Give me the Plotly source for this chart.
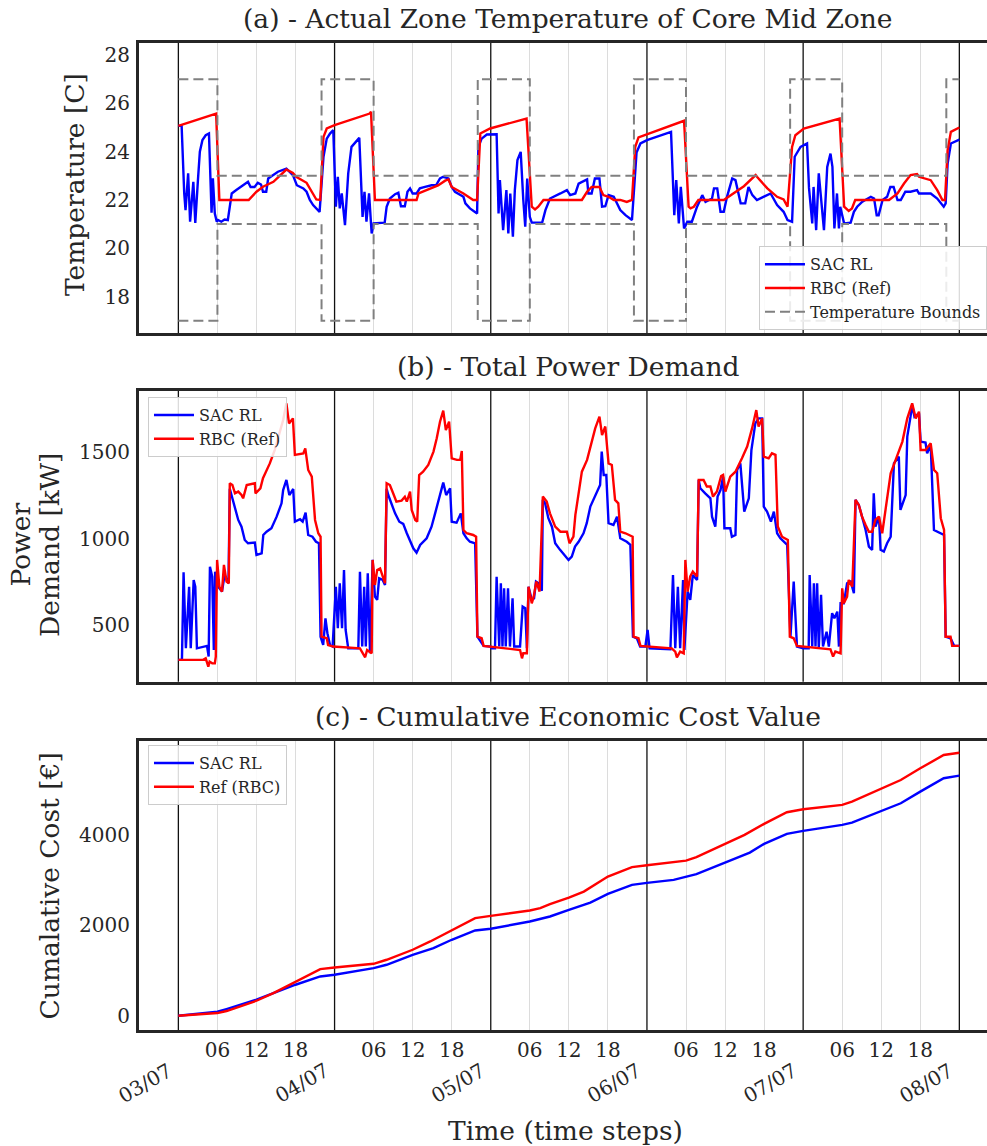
import plotly.graph_objects as go

# ---------------- data (time in hours since 03/07 00:00) ----------------
day_hours = [0, 24, 48, 72, 96, 120]
day_labels = ["03/07", "04/07", "05/07", "06/07", "07/07", "08/07"]
hour_ticks = [6, 12, 18]

temp_ticks = [18, 20, 22, 24, 26, 28]
power_ticks = [500, 1000, 1500]
cost_ticks = [0, 2000, 4000]

# temperature bounds (step changes)
bound_t = [0, 6, 22, 30, 46, 54, 70, 78, 94, 102, 118, 120]
bound_upper = [27, 23, 27, 23, 27, 23, 27, 23, 27, 23, 27, 27]
bound_lower = [17, 21, 17, 21, 17, 21, 17, 21, 17, 21, 17, 17]

temp_rbc_t = [0, 5.6, 5.8, 6.3, 10.8, 12.0, 13.0, 14.6, 16.6, 17.6, 18.1, 19.7, 20.7, 21.2, 21.8, 22.3,
              22.8, 24.0, 29.4, 29.6, 30.2, 36.6, 36.9, 38.7, 39.9, 41.0, 41.5, 42.0, 43.8, 45.3, 45.9,
              46.4, 47.9, 53.5, 54.3, 54.8, 55.3, 56.1, 62.0, 62.8, 63.5, 64.7, 65.3, 66.1, 66.9, 67.9,
              68.9, 69.7, 70.2, 70.7, 72.0, 77.7, 78.4, 78.7, 79.2, 79.9, 83.8, 85.1, 86.9, 88.7, 88.9,
              90.5, 92.0, 93.0, 93.6, 94.3, 94.8, 96.1, 101.6, 102.3, 103.0, 103.5, 104.0, 109.2, 110.5,
              111.5, 112.5, 113.5, 113.8, 115.6, 116.6, 117.4, 117.8, 118.2, 118.7, 120.0]
temp_rbc = [25.07, 25.55, 25.58, 22.0, 22.0, 22.34, 22.55, 22.75, 23.26, 23.12, 22.96, 22.71, 22.27, 22.02,
            22.0, 24.61, 24.96, 25.1, 25.58, 25.65, 22.0, 22.0, 22.27, 22.48, 22.6, 22.8, 22.85, 22.54,
            22.27, 22.0, 22.0, 24.75, 24.96, 25.37, 21.72, 21.61, 21.72, 22.0, 22.0, 22.34, 22.54, 22.54,
            22.2, 22.13, 22.0, 22.0, 21.92, 22.0, 24.2, 24.59, 24.72, 25.28, 21.72, 21.65, 21.72, 22.0,
            22.0, 22.24, 22.57, 23.03, 22.96, 22.48, 22.13, 22.02, 21.72, 24.2, 24.68, 24.96, 25.37,
            21.72, 21.55, 21.65, 22.0, 22.0, 22.27, 22.68, 23.03, 23.07, 22.96, 22.82, 22.41, 22.0, 22.0,
            24.06, 24.82, 25.0]

temp_sac_t = [0, 0.5, 0.9, 1.1, 1.5, 1.8, 2.3, 2.6, 3.0, 3.3, 3.7, 4.2, 4.7, 5.1, 5.3, 5.6, 5.9, 6.1, 6.6,
              7.1, 7.6, 8.2, 8.9, 10.0, 10.7, 11.1, 11.7, 12.2, 12.7, 13.0, 13.5, 13.8, 14.6, 15.3, 16.6,
              17.6, 18.2, 19.2, 19.7, 20.2, 20.7, 21.2, 21.7, 22.3, 22.8, 23.3, 23.8, 24.2, 24.5, 24.8,
              25.1, 25.6, 26.1, 26.6, 27.4, 27.8, 28.3, 28.6, 28.9, 29.3, 29.7, 30.0, 31.7, 32.0, 32.5,
              33.3, 33.8, 34.2, 34.8, 35.2, 35.6, 36.0, 36.6, 37.1, 37.9, 38.9, 39.6, 40.2, 40.7, 41.5,
              42.0, 42.5, 43.8, 44.1, 44.8, 45.9, 46.1, 46.6, 47.4, 48.9, 49.2, 49.4, 49.9, 50.4, 50.7,
              51.0, 51.4, 51.7, 52.1, 52.6, 53.0, 53.3, 53.6, 54.0, 54.3, 55.9, 56.4, 57.1, 58.7, 59.7,
              60.2, 61.0, 61.5, 62.8, 63.0, 63.5, 64.0, 64.7, 65.1, 65.6, 66.1, 66.9, 67.9, 68.7, 69.7,
              70.4, 71.0, 72.0, 75.7, 76.0, 76.2, 76.5, 76.9, 77.2, 77.7, 78.2, 78.9, 79.7, 80.5, 81.0,
              82.0, 82.3, 82.8, 83.3, 83.8, 84.3, 85.1, 85.6, 86.4, 87.1, 87.6, 88.2, 88.9, 89.9, 91.0,
              92.0, 93.0, 93.6, 94.3, 94.7, 95.6, 96.6, 96.9, 97.4, 97.6, 98.0, 98.4, 99.2, 99.7, 100.2,
              100.5, 100.8, 101.2, 101.5, 101.7, 102.3, 103.3, 103.8, 104.3, 105.1, 106.4, 106.9, 107.3,
              107.6, 108.2, 108.9, 109.4, 109.9, 110.5, 111.0, 111.7, 112.5, 113.5, 113.8, 115.6, 116.6,
              117.6, 117.9, 118.2, 118.7, 120.0]
temp_sac = [25.07, 25.07, 22.27, 21.58, 23.1, 21.1, 22.75, 21.05, 22.8, 24.0, 24.48, 24.68, 24.75, 21.47,
            22.9, 21.44, 21.1, 21.17, 21.1, 21.19, 21.17, 22.27, 22.41, 22.61, 22.75, 22.54, 22.54, 22.71,
            22.64, 22.34, 22.34, 22.89, 23.03, 23.17, 23.3, 23.03, 22.61, 22.48, 22.34, 22.0, 21.79, 21.65,
            21.51, 23.79, 24.54, 24.75, 24.89, 21.72, 22.96, 21.65, 22.27, 20.96, 23.1, 24.2, 24.48, 24.57,
            21.3, 22.34, 21.1, 22.27, 20.61, 21.03, 21.06, 21.72, 22.06, 22.24, 22.3, 21.74, 21.74, 22.34,
            22.48, 22.27, 22.27, 22.48, 22.54, 22.61, 22.61, 22.89, 22.96, 22.89, 22.54, 22.34, 22.13,
            21.86, 21.65, 21.44, 24.2, 24.54, 24.71, 24.72, 21.44, 22.82, 20.75, 22.41, 20.61, 22.27, 20.48,
            22.41, 23.65, 23.99, 22.0, 20.89, 22.89, 21.3, 21.06, 21.06, 21.58, 22.06, 22.27, 22.41, 22.2,
            22.27, 22.68, 22.85, 22.27, 22.27, 22.89, 22.89, 21.72, 21.74, 22.2, 22.13, 21.58, 21.37, 21.17,
            23.96, 24.34, 24.48, 24.82, 22.5, 21.37, 22.82, 21.03, 22.54, 20.82, 21.1, 21.1, 21.72, 22.2,
            21.92, 22.06, 22.48, 22.48, 21.51, 21.51, 22.13, 22.89, 22.82, 21.86, 21.86, 22.54, 22.2, 22.0,
            22.13, 22.27, 21.79, 21.51, 21.17, 21.1, 23.79, 24.2, 24.34, 22.5, 21.03, 22.54, 20.75, 23.1,
            20.75, 23.37, 23.92, 23.37, 20.82, 22.27, 20.82, 21.72, 21.03, 21.06, 21.51, 21.72, 21.93,
            22.13, 22.06, 21.37, 21.37, 22.0, 22.13, 22.54, 22.54, 22.0, 22.0, 22.34, 22.34, 22.41, 22.27,
            22.27, 22.06, 21.72, 21.86, 23.51, 24.34, 24.5]

power_rbc_t = [0, 3.8, 4.2, 4.6, 4.8, 5.2, 5.6, 5.75, 5.95, 6.3, 6.7, 7.0, 7.4, 7.75, 7.9, 8.3, 8.7, 9.2,
               9.7, 9.95, 10.5, 11.2, 11.75, 11.85, 12.6, 13.0, 13.5, 14.05, 14.8, 15.6, 16.1, 16.6, 17.0,
               17.6, 17.9, 19.2, 19.5, 19.95, 20.5, 21.0, 21.5, 21.85, 22.0, 22.8, 23.0, 23.8, 27.9, 28.7,
               29.0, 29.7, 29.85, 30.2, 30.55, 31.0, 31.4, 31.75, 32.0, 32.5, 33.0, 33.5, 34.3, 34.8, 35.1,
               35.6, 35.85, 36.4, 36.7, 37.0, 37.6, 38.4, 39.2, 39.7, 40.2, 40.7, 41.1, 41.6, 42.0, 42.8,
               43.3, 43.55, 43.8, 44.3, 45.3, 45.75, 45.95, 46.6, 46.9, 52.5, 52.8, 53.0, 53.55, 53.8, 54.3,
               54.6, 55.0, 55.5, 56.0, 56.6, 57.1, 57.9, 58.7, 59.7, 60.1, 60.7, 61.0, 62.0, 62.8, 63.5,
               64.05, 64.7, 65.1, 65.6, 66.1, 66.6, 67.1, 67.6, 67.9, 68.7, 69.2, 69.8, 69.95, 70.7, 71.0,
               75.8, 76.35, 76.6, 77.1, 77.65, 77.9, 78.25, 78.65, 79.05, 79.7, 79.95, 80.7, 81.2, 81.75,
               82.15, 82.75, 83.4, 83.7, 84.05, 84.8, 85.6, 86.6, 87.4, 88.15, 88.8, 89.15, 89.7, 89.95,
               90.7, 91.2, 91.75, 92.1, 92.75, 93.65, 93.95, 94.55, 95.05, 100.2, 100.6, 100.95, 101.75,
               102.0, 102.25, 102.75, 103.0, 103.55, 104.05, 104.55, 105.05, 105.6, 106.1, 106.6, 107.1,
               107.65, 108.15, 109.45, 110.45, 111.25, 112.0, 112.75, 113.3, 113.8, 114.05, 114.8, 115.6,
               116.1, 116.6, 117.15, 117.65, 117.9, 118.65, 118.9, 120.0]
power_rbc = [301, 301, 310, 262, 291, 281, 281, 320, 879, 724, 696, 850, 754, 744, 1322, 1312, 1264, 1274,
             1254, 1235, 1312, 1318, 1322, 1264, 1293, 1351, 1389, 1437, 1514, 1620, 1688, 1784, 1668,
             1697, 1486, 1495, 1524, 1399, 1360, 1110, 1033, 1013, 435, 426, 387, 378, 368, 316,
             358, 339, 879, 734, 821, 830, 783, 744, 1322, 1312, 1264, 1216, 1222, 1244, 1216,
             1274, 1168, 1110, 1100, 1370, 1389, 1428, 1505, 1582, 1678, 1742, 1630, 1678, 1466, 1457,
             1457, 1508, 1052, 1033, 1023, 1013, 435, 426, 382, 358, 310, 339, 339, 724, 628,
             667, 754, 696, 1245, 1216, 1148, 1071, 1042, 1042, 975, 1013, 1139, 1389, 1457, 1563,
             1639, 1707, 1601, 1650, 1437, 1428, 1226, 1206, 1042, 1033, 1023, 1013, 435, 426, 382,
             368, 349, 316, 349, 339, 879, 696, 783, 811, 783, 1341, 1341, 1303, 1303,
             1245, 1274, 1364, 1370, 1274, 1360, 1389, 1466, 1534, 1639, 1745, 1650, 1697, 1476,
             1466, 1495, 1486, 1072, 1013, 994, 435, 426, 382, 362, 320, 349, 339,
             715, 628, 667, 763, 724, 1226, 1197, 1129, 1081, 1042, 1042, 1110,
             1129, 1033, 1380, 1476, 1563, 1697, 1784, 1697, 1736, 1514, 1514, 1553,
             1399, 1380, 1120, 1052, 435, 435, 382, 382]

power_sac_t = [0, 0.55, 0.8, 1.15, 1.65, 1.9, 2.35, 2.6, 2.85, 4.05, 4.4, 4.65, 4.85, 5.2, 5.45, 5.65, 5.85,
               6.1, 6.7, 7.1, 7.7, 7.9, 8.15, 8.7, 9.2, 9.7, 10.2, 10.7, 11.75, 12.0, 12.8, 13.05, 13.55,
               14.3, 15.1, 15.85, 16.1, 16.6, 17.05, 17.65, 17.9, 18.7, 19.1, 19.55, 19.95, 20.6, 21.15,
               21.6, 21.85, 22.25, 22.6, 22.9, 23.3, 23.7, 24.2, 24.5, 24.8, 25.15, 25.45, 25.7, 26.1,
               27.65, 27.9, 28.25, 28.55, 28.8, 29.1, 29.45, 29.85, 30.2, 30.55, 30.85, 31.4, 31.75, 32.0,
               32.25, 32.75, 33.3, 33.95, 34.55, 35.1, 35.6, 36.1, 36.6, 37.15, 38.15, 38.9, 39.45, 40.1,
               40.7, 41.15, 41.75, 42.0, 42.75, 43.4, 43.8, 44.3, 44.8, 45.6, 45.95, 46.9, 48.0, 48.15,
               48.65, 48.9, 49.3, 49.55, 49.8, 50.05, 50.3, 50.65, 50.95, 51.35, 51.6, 52.5, 52.9, 53.3,
               53.55, 53.8, 54.3, 54.65, 54.95, 55.35, 55.85, 56.0, 56.35, 56.85, 57.4, 57.9, 58.65,
               59.95, 60.45, 60.95, 61.5, 62.25, 62.75, 63.3, 64.05, 64.8, 65.05, 65.35, 65.75, 66.1,
               66.85, 67.4, 67.9, 68.9, 69.45, 69.85, 70.45, 70.95, 71.75, 72.1, 72.4, 75.6, 76.0, 76.35,
               76.75, 77.1, 77.55, 77.75, 78.25, 78.65, 79.05, 79.7, 79.95, 80.2, 80.95, 81.75, 82.0,
               82.5, 82.85, 83.3, 83.7, 83.9, 84.8, 85.05, 85.6, 85.85, 86.35, 86.95, 87.65, 88.05, 88.65,
               89.15, 89.7, 89.95, 90.45, 91.05, 91.5, 92.0, 92.5, 93.55, 94.05, 94.55, 95.05, 96.0,
               96.85, 97.0, 97.4, 97.65, 97.9, 98.15, 98.4, 98.75, 99.05, 99.6, 99.95, 100.45, 100.8,
               101.25, 101.5, 101.75, 102.25, 102.75, 103.3, 103.8, 104.05, 104.55, 105.05, 105.6, 106.1,
               106.6, 106.85, 107.1, 107.65, 107.9, 108.4, 108.9, 109.45, 109.7, 109.95, 110.7, 110.95,
               111.75, 112.0, 112.5, 112.75, 113.1, 113.8, 114.05, 114.8, 115.05, 115.6, 116.1, 117.15,
               117.65, 117.9, 118.65, 119.2, 120.0]
power_sac = [301, 301, 807, 368, 724, 368, 763, 724, 368, 378, 382, 320, 840, 782, 358, 811, 744,
             724, 696, 792, 744, 1290, 1254, 1187, 1110, 1071, 994, 975, 979, 908, 917, 1023, 1042,
             1062, 1129, 1206, 1283, 1341, 1254, 1289, 1100, 1114, 1100, 1152, 1023, 1013, 984,
             975, 435, 387, 541, 455, 387, 378, 724, 484, 744, 484, 821, 474, 368,
             368, 811, 378, 724, 378, 802, 339, 879, 667, 648, 773, 763, 734, 1290,
             1254, 1206, 1148, 1100, 1087, 1033, 994, 946, 921, 965, 1004, 1071, 1148, 1245,
             1326, 1254, 1293, 1100, 1094, 1148, 1033, 1004, 984, 975, 435, 382, 378, 368,
             368, 782, 378, 744, 378, 715, 378, 715, 378, 657, 378, 378, 609, 600,
             368, 724, 648, 657, 754, 744, 701, 1226, 1206, 1120, 1071, 975, 937,
             879, 898, 956, 984, 1033, 1091, 1187, 1254, 1312, 1505, 1370, 1370, 1091,
             1081, 1129, 1004, 984, 966, 435, 426, 378, 378, 474, 368, 362, 792, 368,
             724, 368, 763, 358, 696, 648, 792, 763, 1341, 1293, 1264, 1235, 1129,
             1071, 1245, 1283, 1360, 1062, 1062, 1013, 1023, 1399, 1437, 1158, 1235, 1514, 1668,
             1697, 1697, 1187, 1158, 1100, 1158, 1033, 1004, 966, 435, 754, 378, 368,
             368, 792, 378, 744, 378, 744, 368, 677, 378, 464, 378, 571, 542,
             580, 378, 628, 628, 744, 754, 686, 1226, 1197, 1129, 1052, 956,
             937, 1264, 1071, 1129, 937, 927, 975, 1013, 1245, 1437, 1476, 1168,
             1254, 1592, 1707, 1775, 1707, 1726, 1563, 1557, 1495, 1543, 1052, 1033,
             1023, 435, 426, 382, 382]

cost_rbc_t = [0, 6, 7.4, 12, 14.6, 18, 21.8, 24, 30, 32, 36, 38.7, 42, 45.6, 48, 54, 55.6, 57.1, 60, 62.3,
              66, 69.7, 72, 78, 79.6, 84, 87, 90, 93.5, 96, 102, 103.5, 108, 111, 114, 117.6, 120]
cost_rbc = [0, 59, 104, 331, 501, 759, 1031, 1068, 1149, 1238, 1459, 1643, 1886, 2159, 2210, 2328, 2379,
            2468, 2615, 2747, 3079, 3286, 3330, 3432, 3507, 3794, 4000, 4243, 4501, 4567, 4663, 4736,
            5031, 5215, 5473, 5768, 5819]

cost_sac_t = [0, 6, 7.4, 12, 18, 21.8, 24, 30, 32, 36, 39.2, 42, 45.6, 48, 54, 55.6, 57.1, 60, 63.3, 66,
              69.7, 72, 76.1, 79.6, 84, 87.8, 90, 93.5, 96, 102, 103.5, 108, 111, 114, 117.6, 120]
cost_sac = [0, 88, 147, 354, 685, 869, 906, 1053, 1127, 1348, 1495, 1680, 1886, 1923, 2085, 2136, 2195,
            2343, 2504, 2696, 2895, 2939, 3006, 3131, 3388, 3609, 3801, 4022, 4088, 4221, 4272, 4537,
            4700, 4957, 5253, 5311]

# ---------------- styling ----------------
FONT = "DejaVu Serif"
INK = "#262626"
BLUE = "#0000ff"
RED = "#ff0000"
GREY = "#808080"
GRID = "#dcdcdc"
LW = 2.4
X_RANGE = [-6.05, 124.25]

fig = go.Figure()


def add_line(x, y, color, name, xa, ya, leg, group, show=True, width=LW, dash=None, shape="linear"):
    fig.add_trace(go.Scatter(
        x=x, y=y, mode="lines", name=name, xaxis=xa, yaxis=ya, legend=leg,
        legendgroup=group, showlegend=show,
        line=dict(color=color, width=width, dash=dash, shape=shape)))


# panel (a)
add_line(temp_sac_t, temp_sac, BLUE, "SAC RL", "x", "y", "legend", "a1")
add_line(temp_rbc_t, temp_rbc, RED, "RBC (Ref)", "x", "y", "legend", "a2")
add_line(bound_t, bound_upper, GREY, "Temperature Bounds", "x", "y", "legend", "a3",
         width=2, dash="10px,5px", shape="hv")
add_line(bound_t, bound_lower, GREY, "Temperature Bounds", "x", "y", "legend", "a3", show=False,
         width=2, dash="10px,5px", shape="hv")
# panel (b)
add_line(power_sac_t, power_sac, BLUE, "SAC RL", "x2", "y2", "legend2", "b1")
add_line(power_rbc_t, power_rbc, RED, "RBC (Ref)", "x2", "y2", "legend2", "b2")
# panel (c)
add_line(cost_sac_t, cost_sac, BLUE, "SAC RL", "x3", "y3", "legend3", "c1")
add_line(cost_rbc_t, cost_rbc, RED, "Ref (RBC)", "x3", "y3", "legend3", "c2")

grid_vals = [d + h for d in day_hours[:-1] for h in hour_ticks]
grid_text = [f"{h:02d}" for d in day_hours[:-1] for h in hour_ticks]
tickfont = dict(family=FONT, size=20, color=INK)


def xaxis_cfg(anchor, labels):
    return dict(domain=[0, 1], range=X_RANGE, anchor=anchor, showline=True, mirror=True,
                linecolor=INK, linewidth=3, showgrid=True, gridcolor=GRID, gridwidth=1.3,
                tickvals=grid_vals, ticktext=grid_text, showticklabels=labels, ticks="",
                zeroline=False, tickfont=tickfont, ticklabelstandoff=0)


def yaxis_cfg(anchor, domain, rng, ticks):
    return dict(domain=domain, range=rng, anchor=anchor, showline=True, mirror=False,
                linecolor=INK, linewidth=3, showgrid=False, zeroline=False, ticks="",
                tickvals=ticks, tickfont=tickfont, ticklabelstandoff=2)


legend_common = dict(bgcolor="rgba(255,255,255,0.85)", bordercolor="#cccccc", borderwidth=1,
                     font=dict(family=FONT, size=16, color=INK), xanchor="left", yanchor="top",
                     tracegroupgap=0, traceorder="grouped", itemwidth=40)

fig.update_layout(
    width=987, height=1146,
    margin=dict(l=139, r=0, t=43, b=116),
    plot_bgcolor="white", paper_bgcolor="white",
    font=dict(family=FONT, color=INK),
    showlegend=True,
    xaxis=xaxis_cfg("y", False),
    xaxis2=xaxis_cfg("y2", False),
    xaxis3=xaxis_cfg("y3", True),
    yaxis=yaxis_cfg("x", [0.7059, 1.0], [16.48, 28.5], temp_ticks),
    yaxis2=yaxis_cfg("x2", [0.3529, 0.6477], [175, 1857], power_ticks),
    yaxis3=yaxis_cfg("x3", [0.0, 0.2931], [-316, 6084], cost_ticks),
    legend=dict(x=0.7311, y=0.794, **legend_common),
    legend2=dict(x=0.0106, y=0.6413, **legend_common),
    legend3=dict(x=0.0106, y=0.2887, **legend_common),
)

# black day-boundary lines
shapes = []
for xa, ya in [("x", "y"), ("x2", "y2"), ("x3", "y3")]:
    for d in day_hours:
        shapes.append(dict(type="line", xref=xa, yref=f"{ya} domain", x0=d, x1=d, y0=0, y1=1,
                           line=dict(color="#111111", width=1.3), layer="below"))
fig.update_layout(shapes=shapes)

ann = []
title_font = dict(family=FONT, size=26.5, color=INK)
for text, y in [("(a) - Actual Zone Temperature of Core Mid Zone", 1.0253),
                ("(b) - Total Power Demand", 0.6727),
                ("(c) - Cumulative Economic Cost Value", 0.3181)]:
    ann.append(dict(text=text, xref="paper", yref="paper", x=0.506, y=y, showarrow=False,
                    xanchor="center", yanchor="middle", font=title_font))
for text, x, y in [("Temperature [C]", -0.0767, 0.857),
                   ("Power", -0.1395, 0.4915),
                   ("Demand [kW]", -0.1049, 0.4915),
                   ("Cumalative Cost [€]", -0.105, 0.1464)]:
    ann.append(dict(text=text, xref="paper", yref="paper", x=x, y=y, showarrow=False,
                    textangle=-90, xanchor="center", yanchor="middle", font=title_font))
for d, lab in zip(day_hours, day_labels):
    ann.append(dict(text=lab, xref="x3", yref="paper", x=d, y=-0.0532, xshift=-33, showarrow=False,
                    textangle=-30, xanchor="center", yanchor="middle", font=tickfont))
ann.append(dict(text="Time (time steps)", xref="paper", yref="paper", x=0.5035, y=-0.1023,
                showarrow=False, xanchor="center", yanchor="middle",
                font=dict(family=FONT, size=26.5, color=INK)))
fig.update_layout(annotations=ann)

fig.write_html("out.html", config={"displayModeBar": False},
               post_script="document.body.style.margin='0px';")
